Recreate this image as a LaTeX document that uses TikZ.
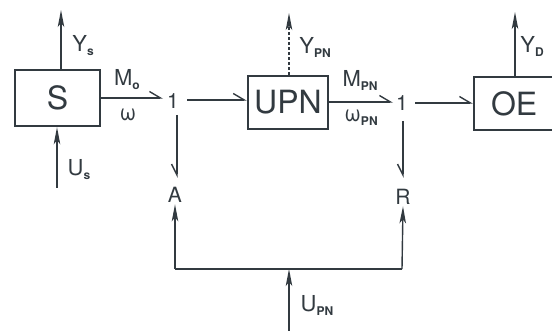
\documentclass[tikz,border=0pt]{standalone}
\usepackage{fontspec}
\setmainfont{TeX Gyre Heros}
\usetikzlibrary{arrows.meta}
\definecolor{ink}{RGB}{50,58,64}
\newcommand{\lowtxt}[1]{\raisebox{-4pt}{\fontsize{12}{12}\selectfont\bfseries #1}}
\begin{document}
\begin{tikzpicture}[x=1pt,y=1pt, line width=1.4pt, draw=ink, text=ink,
  blk/.style={draw=ink, line width=2.4pt, inner sep=0pt, font=\fontsize{32}{32}\selectfont},
  lbl/.style={font=\fontsize{22}{22}\selectfont, inner sep=0pt},
  jn/.style={font=\fontsize{21}{21}\selectfont, inner sep=1pt},
  harpR/.style={-{Straight Barb[left, length=11pt, width=13pt, line width=1.4pt]}},
  harpD/.style={-{Straight Barb[right, length=11pt, width=11pt, line width=1.4pt]}},
  upar/.style={-{Stealth[length=17pt, width=6.5pt, inset=4pt]}}
]
\useasboundingbox (0,0) rectangle (552,-331);
% blocks
\node[blk, minimum width=85pt, minimum height=56pt] (S) at (57.5,-98) {S};
\node[blk, minimum width=80pt, minimum height=53pt] (UPN) at (288,-102.5) {UPN};
\node[blk, minimum width=86pt, minimum height=53pt, anchor=west] (OE) at (473,-103.5) {\hspace{-6pt}OE};
% junctions
\node[jn] (j1) at (173,-101) {1};
\node[jn] (j2) at (402,-103) {1};
\node[jn] (A) at (175,-195) {A};
\node[jn] (R) at (403,-197) {R};
% free ends
\coordinate (ys) at (61,-10);
\coordinate (us) at (57,-188);
\coordinate (ypn) at (289,-13);
\coordinate (yd) at (515,-12);
\coordinate (bl) at (175,-269);
\coordinate (br) at (402,-269);
\coordinate (bm) at (289,-269);
\coordinate (bu) at (289,-331);
% connectors
\draw[upar] (S.north -| ys) -- (ys);
\draw[upar] (us) -- (us |- S.south);
\draw[harpR] (S.east |- 0,-98) -- (163,-98);
\draw[harpR] (187,-100) -- (UPN.west |- 0,-100);
\draw[harpD] (177,-115) -- (177,-178);
\draw[upar, dashed, dash pattern=on 3pt off 2pt, line width=1.1pt] (UPN.north -| ypn) -- (ypn);
\draw[harpR] (UPN.east |- 0,-102) -- (393,-102);
\draw[harpR] (415,-103) -- (OE.west |- 0,-103);
\draw[harpD] (403,-121) -- (403,-178);
\draw[upar] (OE.north -| yd) -- (yd);
\draw (bl) -- (br);
\draw[upar] (bl) -- (A.south);
\draw[upar] (br) -- (R.south);
\draw[upar] (bu) -- (bm);
% labels
\node[lbl] at (83,-46) {Y\lowtxt{s}};
\node[lbl] at (79,-170) {U\lowtxt{s}};
\node[lbl] at (127,-80) {M\lowtxt{o}};
\node[lbl] at (128,-115) {ω};
\node[lbl] at (315,-47) {Y\lowtxt{PN}};
\node[lbl] at (360,-80) {M\lowtxt{PN}};
\node[lbl] at (361,-118) {ω\lowtxt{PN}};
\node[lbl] at (532,-46) {Y\lowtxt{D}};
\node[lbl] at (317,-305) {U\lowtxt{PN}};
\end{tikzpicture}
\end{document}
